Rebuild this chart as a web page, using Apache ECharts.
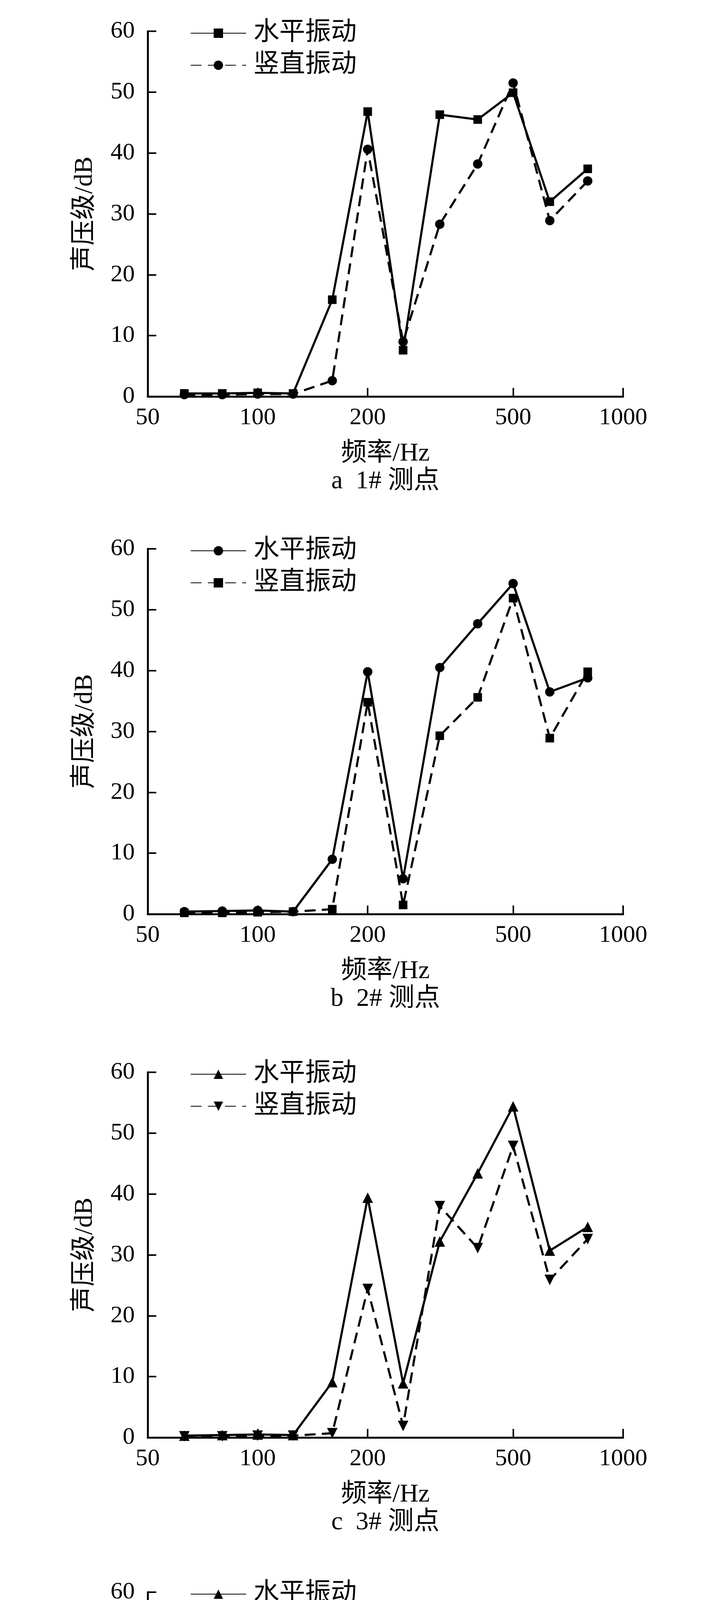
<!DOCTYPE html>
<html>
<head>
<meta charset="utf-8">
<script src="https://cdn.jsdelivr.net/npm/echarts@6/dist/echarts.min.js"></script>
<style>
html,body{margin:0;padding:0;background:#fff;}
#chart{width:1843px;height:6622px;}
</style>
</head>
<body>
<div id="chart"></div>
<script>
// Frequencies (Hz), 1/3-octave bands
const freqs = [63, 80, 100, 125, 160, 200, 250, 315, 400, 500, 630, 800];
const xTickValues = [50, 100, 200, 500, 1000];

// Sound pressure level (dB), horizontal vibration
const horiz1 = [0.5, 0.5, 0.6, 0.5, 15.9, 46.8, 7.6, 46.3, 45.5, 49.9, 32.0, 37.4];
const horiz2 = [0.4, 0.5, 0.6, 0.4, 9.0, 39.8, 5.8, 40.5, 47.7, 54.3, 36.5, 38.8];
const horiz3 = [0.3, 0.4, 0.5, 0.4, 9.1, 39.4, 8.9, 32.2, 43.4, 54.4, 30.7, 34.6];
const horiz4 = [0.3, 0.35, 0.45, 0.4, 7.4, 39.3, 5.9, 42.4, 36.9, 54.2, 33.2, 36.5];
const horiz5 = [0.4, 0.5, 0.6, 0.4, 2.3, 40.9, 14.7, 39.0, 37.7, 49.7, 36.9, 36.2];

// Sound pressure level (dB), vertical vibration
const vert1 = [0.3, 0.3, 0.4, 0.4, 2.6, 40.6, 9.0, 28.3, 38.2, 51.5, 28.9, 35.4];
const vert2 = [0.2, 0.2, 0.3, 0.4, 0.8, 34.8, 1.5, 29.3, 35.6, 51.9, 28.9, 39.8];
const vert3 = [0.2, 0.2, 0.3, 0.3, 0.7, 24.4, 1.9, 38.0, 31.1, 47.9, 25.9, 32.6];
const vert4 = [0.2, 0.2, 0.3, 0.3, 3.5, 36.1, 2.0, 32.5, 38.4, 49.1, 29.4, 33.6];
const vert5 = [0.2, 0.3, 0.3, 0.5, 3.7, 30.4, 5.0, 44.8, 35.0, 50.5, 30.6, 35.1];

const seriesNames = ['水平振动', '竖直振动'];
const captions = ['a  1# 测点', 'b  2# 测点', 'c  3# 测点', 'd  4# 测点', 'e  5# 测点'];
const xName = '频率/Hz';
const yName = '声压级/dB';

const panels = [
  { h: horiz1, v: vert1, hSym: 'rect', vSym: 'circle', hRot: 0, vRot: 0 },
  { h: horiz2, v: vert2, hSym: 'circle', vSym: 'rect', hRot: 0, vRot: 0 },
  { h: horiz3, v: vert3, hSym: 'triangle', vSym: 'triangle', hRot: 0, vRot: 180 },
  { h: horiz4, v: vert4, hSym: 'triangle', vSym: 'triangle', hRot: 0, vRot: 180 },
  { h: horiz5, v: vert5, hSym: 'triangle', vSym: 'triangle', hRot: 0, vRot: 180 }
];

// layout
const gridTops = [80, 1405, 2745, 4076, 5416];
const gridLeft = 378, gridWidth = 1217, gridHeight = 935;
const FONT = "'Liberation Serif', 'Times New Roman', 'Noto Sans CJK SC', serif";
const FS = 62;   // tick labels
const FT = 66;   // names, legend, captions
const symSize = { rect: 22, circle: 24, triangle: 27 };

const grids = [], xAxes = [], yAxes = [], series = [], legends = [], titles = [];
panels.forEach((p, i) => {
  const top = gridTops[i];
  grids.push({ left: gridLeft, top: top, width: gridWidth, height: gridHeight, containLabel: false });
  xAxes.push({
    gridIndex: i, type: 'log', logBase: 10, min: 50, max: 1000,
    name: xName, nameLocation: 'middle', nameGap: 114,
    nameTextStyle: { fontFamily: FONT, fontSize: FT, color: '#000' },
    axisLine: { show: true, onZero: false, lineStyle: { color: '#000', width: 5 } },
    axisTick: { show: true, inside: true, length: 22, lineStyle: { color: '#000', width: 4 }, customValues: xTickValues },
    axisLabel: { show: true, margin: 24, fontFamily: FONT, fontSize: FS, color: '#000', customValues: xTickValues,
      formatter: v => String(Math.round(v)) },
    splitLine: { show: false }, minorTick: { show: false }
  });
  yAxes.push({
    gridIndex: i, type: 'value', min: 0, max: 60, interval: 10,
    name: yName, nameLocation: 'middle', nameGap: 127,
    nameTextStyle: { fontFamily: FONT, fontSize: FT, color: '#000' },
    axisLine: { show: true, lineStyle: { color: '#000', width: 5 } },
    axisTick: { show: true, inside: true, length: 22, lineStyle: { color: '#000', width: 4 } },
    axisLabel: { margin: 33, fontFamily: FONT, fontSize: FS, color: '#000' },
    splitLine: { show: false }
  });
  const tag = '|' + i;
  [[p.h, p.hSym, p.hRot, 'solid', 0], [p.v, p.vSym, p.vRot, [28, 16], 1]].forEach(([arr, sym, rot, ltype, k]) => {
    series.push({
      name: seriesNames[k] + tag, type: 'line', xAxisIndex: i, yAxisIndex: i,
      data: freqs.map((f, j) => [f, arr[j]]),
      symbol: sym, symbolSize: symSize[sym], symbolRotate: rot, showSymbol: true,
      lineStyle: { color: '#000', width: 5.5, type: ltype },
      itemStyle: { color: '#000' },
      animation: false, z: 3 - k
    });
  });
  legends.push({
    orient: 'vertical', left: 487, top: top - 28, padding: 0,
    itemWidth: 142, itemHeight: 30, itemGap: 16, selectedMode: false,
    data: seriesNames.map(n => n + tag),
    formatter: n => n.split('|')[0],
    textStyle: { fontFamily: FONT, fontSize: FT, color: '#000', padding: [0, 0, 0, 14] }
  });
  titles.push({
    text: captions[i], left: gridLeft + gridWidth / 2, top: top + 1120, padding: 0, textAlign: 'center',
    textStyle: { fontFamily: FONT, fontSize: FT, fontWeight: 'normal', color: '#000' }
  });
});

const chart = echarts.init(document.getElementById('chart'), null, { renderer: 'canvas' });
chart.setOption({
  backgroundColor: '#fff',
  animation: false,
  title: titles,
  legend: legends,
  grid: grids,
  xAxis: xAxes,
  yAxis: yAxes,
  series: series
});
</script>
</body>
</html>
